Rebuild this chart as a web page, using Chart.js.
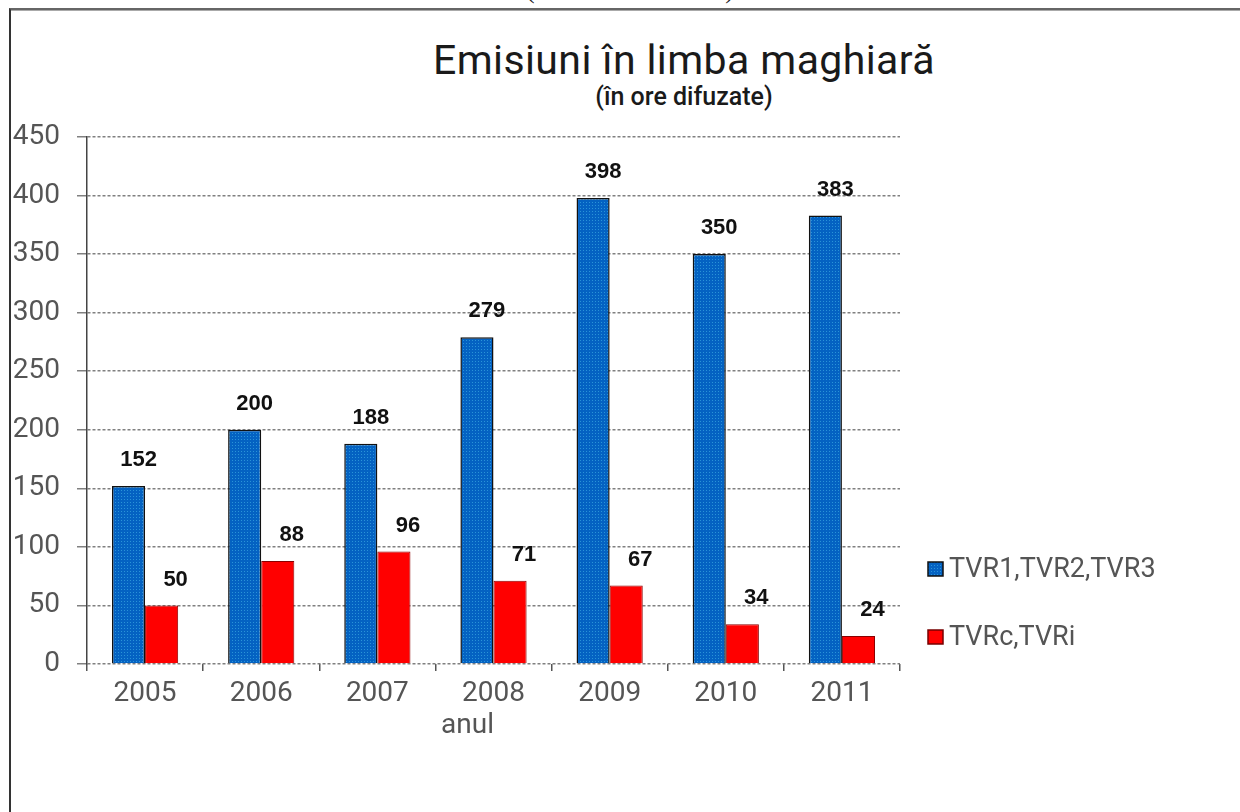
<!DOCTYPE html>
<html>
<head>
<meta charset="utf-8">
<script src="https://cdn.jsdelivr.net/npm/chart.js@4.4.0/dist/chart.umd.min.js"></script>
<style>
  body{ margin:0; background:#fff; width:1240px; height:812px; overflow:hidden; position:relative; font-family:Roboto, sans-serif; }
  #frame{ position:absolute; left:9px; top:8px; width:1300px; height:900px; border-top:2px solid #666; border-left:2px solid #333; box-shadow: inset 0 1px 0 #aaa; }
  #cut{ position:absolute; left:330px; width:600px; top:-23px; text-align:center; font:26px/26px "Liberation Serif", serif; color:#222; }
  #title{ position:absolute; left:184px; width:1000px; top:40px; text-align:center; font:400 41px/41px Roboto, sans-serif; letter-spacing:0.4px; color:#1a1a1a; }
  #subtitle{ position:absolute; left:184px; width:1000px; top:84px; text-align:center; font:500 25px/25px Roboto, sans-serif; color:#1a1a1a; }
  canvas{ position:absolute; left:0; top:0; }
</style>
</head>
<body>
<div id="frame"></div>
<div id="cut">(in broadcast hours)</div>
<div id="title">Emisiuni în limba maghiară</div>
<div id="subtitle">(în ore difuzate)</div>
<canvas id="chart" width="1240" height="812"></canvas>
<script>
// Data
const years = ['2005', '2006', '2007', '2008', '2009', '2010', '2011'];
const tvrNational = [152, 200, 188, 279, 398, 350, 383];
const tvrRegional = [50, 88, 96, 71, 67, 34, 24];
const seriesNames = ['TVR1,TVR2,TVR3', 'TVRc,TVRi'];
const yMax = 450, yStep = 50;

// dotted blue fill like the old Excel bars
function dotPattern(){
  const c = document.createElement('canvas'); c.width = 3; c.height = 3;
  const g = c.getContext('2d');
  g.fillStyle = '#0462c2'; g.fillRect(0, 0, 3, 3);
  g.fillStyle = '#2a93d8'; g.fillRect(1, 1, 1, 1);
  return g.createPattern(c, 'repeat');
}
const blueFill = dotPattern();
const redFill = '#ff0000';

const greyText = '#555';
const tickFont = {family:'Roboto', size:28, weight:'400'};

// value labels above bars (Excel had them nudged a bit to the right)
const valueLabels = {
  id:'valueLabels',
  afterDatasetsDraw(chart){
    const ctx = chart.ctx;
    ctx.save();
    ctx.font = 'bold 22px "Liberation Sans", Arial, sans-serif';
    ctx.fillStyle = '#111';
    ctx.textAlign = 'center';
    ctx.textBaseline = 'middle';
    chart.data.datasets.forEach((ds, di)=>{
      chart.getDatasetMeta(di).data.forEach((bar, i)=>{
        const dx = di === 0 ? 10 : 14;
        ctx.fillText(String(ds.data[i]), bar.x + dx, bar.y - 26);
      });
    });
    ctx.restore();
  }
};

// legend on the right + axis caption
const sideLegend = {
  id:'sideLegend',
  afterDraw(chart){
    const ctx = chart.ctx, a = chart.chartArea;
    ctx.save();
    const fills = [blueFill, redFill];
    const edges = ['#111', '#700'];
    const rows = [a.bottom - 95, a.bottom - 27];
    seriesNames.forEach((name, i)=>{
      const x = a.right + 28, y = rows[i];
      ctx.fillStyle = fills[i];
      ctx.fillRect(x, y - 7, 15, 14);
      ctx.strokeStyle = edges[i]; ctx.lineWidth = 1.5;
      ctx.strokeRect(x, y - 7, 15, 14);
      ctx.fillStyle = greyText;
      ctx.font = '400 27px Roboto, sans-serif';
      ctx.textAlign = 'left'; ctx.textBaseline = 'middle';
      ctx.fillText(name, x + 21, y + 1);
    });
    ctx.font = '400 28px Roboto, sans-serif';
    ctx.textAlign = 'center'; ctx.textBaseline = 'alphabetic';
    ctx.fillText('anul', (a.left + a.right) / 2 - 26, a.bottom + 69);
    ctx.restore();
  }
};

new Chart(document.getElementById('chart').getContext('2d'), {
  type:'bar',
  data:{
    labels: years,
    datasets:[
      {label:seriesNames[0], data:tvrNational, backgroundColor:blueFill, borderColor:'#111', borderWidth:1.5},
      {label:seriesNames[1], data:tvrRegional, backgroundColor:redFill, borderColor:'#8a0000', borderWidth:1}
    ]
  },
  options:{
    responsive:false,
    animation:false,
    layout:{ padding:{left:0, top:137, right:340, bottom:0} },
    datasets:{ bar:{ categoryPercentage:0.57, barPercentage:1.0 } },
    plugins:{ legend:{display:false}, tooltip:{enabled:false}, title:{display:false} },
    scales:{
      x:{
        ticks:{ color:greyText, font:tickFont, padding:6, maxRotation:0 },
        grid:{
          offset:true, drawOnChartArea:true, drawTicks:true, tickLength:7,
          color: c => c.index === years.length ? '#808080' : 'rgba(0,0,0,0)',
          tickColor:'#555', lineWidth:1.5, borderDash:[3,2]
        },
        border:{ display:false, dash:[3,2] },
        afterFit: s => { s.height = 148; }
      },
      y:{
        min:0, max:yMax,
        ticks:{ stepSize:yStep, color:greyText, font:tickFont, padding:17 },
        grid:{ color:'#808080', lineWidth:1.5, tickLength:10, tickColor:'#808080', borderDash:[3,2] },
        border:{ display:true, color:'#444', width:1.5, dash:[3,2] },
        afterFit: s => { s.width = 87; }
      }
    }
  },
  plugins:[valueLabels, sideLegend]
});
</script>
</body>
</html>
